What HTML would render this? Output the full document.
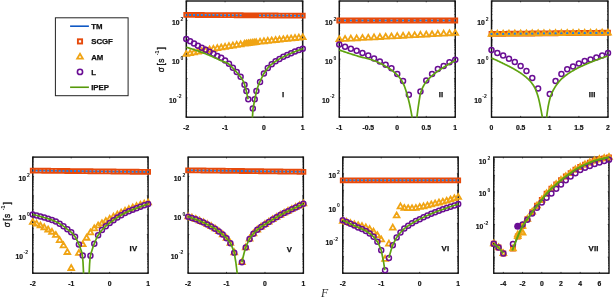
<!DOCTYPE html>
<html lang="en">
<head>
<meta charset="utf-8">
<title>Figure</title>
<style>
html,body{margin:0;padding:0;background:#fff;}
body{width:616px;height:297px;overflow:hidden;}
svg{display:block;filter:blur(0.4px);}
text{font-family:"Liberation Sans", sans-serif;fill:#111;}
.tk{font-size:6.8px;font-weight:700;stroke:#111;stroke-width:.2px;}
.sp{font-size:5px;font-weight:700;}
.pl{font-size:7.8px;font-weight:700;letter-spacing:.2px;stroke:#111;stroke-width:.25px;}
.lg{font-size:7.8px;font-weight:700;stroke:#111;stroke-width:.25px;}
.yl{font-size:8.3px;font-weight:400;fill:#111;stroke:#111;stroke-width:.35px;}
.ys{font-size:5.4px;font-weight:700;fill:#111;}
.xl{font-family:"Liberation Serif",serif;font-style:italic;font-size:11.8px;fill:#333;}
</style>
</head>
<body>
<svg width="616" height="297" viewBox="0 0 616 297">
<rect width="616" height="297" fill="#fff"/>
<defs>
<clipPath id="c0"><rect x="181.25" y="-4" width="126.5" height="121.6"/></clipPath>
<clipPath id="c1"><rect x="334.25" y="-4" width="126" height="121.6"/></clipPath>
<clipPath id="c2"><rect x="486.5" y="-4" width="126.5" height="121.6"/></clipPath>
<clipPath id="c3"><rect x="27.75" y="152.1" width="125.35" height="121.5"/></clipPath>
<clipPath id="c4"><rect x="183.1" y="152.1" width="125.3" height="121.5"/></clipPath>
<clipPath id="c5"><rect x="337.75" y="152.1" width="125.45" height="121.5"/></clipPath>
<clipPath id="c6"><rect x="488.75" y="152.1" width="125.25" height="121.5"/></clipPath>
</defs>
<path d="M186.25 117.2v-1.3M186.25 1v1.3M225.08 117.2v-1.3M225.08 1v1.3M263.92 117.2v-1.3M263.92 1v1.3M302.75 117.2v-1.3M302.75 1v1.3M186.25 1h1.3M302.75 1h-1.3M186.25 20.37h1.3M302.75 20.37h-1.3M186.25 39.73h1.3M302.75 39.73h-1.3M186.25 59.1h1.3M302.75 59.1h-1.3M186.25 78.47h1.3M302.75 78.47h-1.3M186.25 97.83h1.3M302.75 97.83h-1.3M186.25 117.2h1.3M302.75 117.2h-1.3M186.25 14.54h0.9M302.75 14.54h-0.9M186.25 11.13h0.9M302.75 11.13h-0.9M186.25 8.71h0.9M302.75 8.71h-0.9M186.25 6.83h0.9M302.75 6.83h-0.9M186.25 5.3h0.9M302.75 5.3h-0.9M186.25 4h0.9M302.75 4h-0.9M186.25 2.88h0.9M302.75 2.88h-0.9M186.25 1.89h0.9M302.75 1.89h-0.9M186.25 33.9h0.9M302.75 33.9h-0.9M186.25 30.49h0.9M302.75 30.49h-0.9M186.25 28.07h0.9M302.75 28.07h-0.9M186.25 26.2h0.9M302.75 26.2h-0.9M186.25 24.66h0.9M302.75 24.66h-0.9M186.25 23.37h0.9M302.75 23.37h-0.9M186.25 22.24h0.9M302.75 22.24h-0.9M186.25 21.25h0.9M302.75 21.25h-0.9M186.25 53.27h0.9M302.75 53.27h-0.9M186.25 49.86h0.9M302.75 49.86h-0.9M186.25 47.44h0.9M302.75 47.44h-0.9M186.25 45.56h0.9M302.75 45.56h-0.9M186.25 44.03h0.9M302.75 44.03h-0.9M186.25 42.73h0.9M302.75 42.73h-0.9M186.25 41.61h0.9M302.75 41.61h-0.9M186.25 40.62h0.9M302.75 40.62h-0.9M186.25 72.64h0.9M302.75 72.64h-0.9M186.25 69.23h0.9M302.75 69.23h-0.9M186.25 66.81h0.9M302.75 66.81h-0.9M186.25 64.93h0.9M302.75 64.93h-0.9M186.25 63.4h0.9M302.75 63.4h-0.9M186.25 62.1h0.9M302.75 62.1h-0.9M186.25 60.98h0.9M302.75 60.98h-0.9M186.25 59.99h0.9M302.75 59.99h-0.9M186.25 92h0.9M302.75 92h-0.9M186.25 88.59h0.9M302.75 88.59h-0.9M186.25 86.17h0.9M302.75 86.17h-0.9M186.25 84.3h0.9M302.75 84.3h-0.9M186.25 82.76h0.9M302.75 82.76h-0.9M186.25 81.47h0.9M302.75 81.47h-0.9M186.25 80.34h0.9M302.75 80.34h-0.9M186.25 79.35h0.9M302.75 79.35h-0.9M186.25 111.37h0.9M302.75 111.37h-0.9M186.25 107.96h0.9M302.75 107.96h-0.9M186.25 105.54h0.9M302.75 105.54h-0.9M186.25 103.66h0.9M302.75 103.66h-0.9M186.25 102.13h0.9M302.75 102.13h-0.9M186.25 100.83h0.9M302.75 100.83h-0.9M186.25 99.71h0.9M302.75 99.71h-0.9M186.25 98.72h0.9M302.75 98.72h-0.9" stroke="#111" stroke-width="0.7" fill="none"/><rect x="186.25" y="1" width="116.5" height="116.2" fill="none" stroke="#111" stroke-width="1.4"/>
<g clip-path="url(#c0)">
<path d="M186.25 14.9L302.75 15.7" fill="none" stroke="#1580EE" stroke-width="2.0" stroke-linejoin="round"/>
<path d="M184.3 12.95h3.9v3.9h-3.9zM188.18 12.98h3.9v3.9h-3.9zM192.07 13h3.9v3.9h-3.9zM195.95 13.03h3.9v3.9h-3.9zM199.83 13.06h3.9v3.9h-3.9zM203.72 13.08h3.9v3.9h-3.9zM207.6 13.11h3.9v3.9h-3.9zM211.48 13.14h3.9v3.9h-3.9zM215.37 13.16h3.9v3.9h-3.9zM219.25 13.19h3.9v3.9h-3.9zM223.13 13.22h3.9v3.9h-3.9zM227.02 13.24h3.9v3.9h-3.9zM230.9 13.27h3.9v3.9h-3.9zM234.78 13.3h3.9v3.9h-3.9zM238.67 13.32h3.9v3.9h-3.9zM242.55 13.35h3.9v3.9h-3.9zM244.49 13.36h3.9v3.9h-3.9zM246.43 13.38h3.9v3.9h-3.9zM248.37 13.39h3.9v3.9h-3.9zM250.32 13.4h3.9v3.9h-3.9zM252.26 13.42h3.9v3.9h-3.9zM254.2 13.43h3.9v3.9h-3.9zM258.08 13.46h3.9v3.9h-3.9zM261.97 13.48h3.9v3.9h-3.9zM265.85 13.51h3.9v3.9h-3.9zM269.73 13.54h3.9v3.9h-3.9zM273.62 13.56h3.9v3.9h-3.9zM277.5 13.59h3.9v3.9h-3.9zM281.38 13.62h3.9v3.9h-3.9zM285.27 13.64h3.9v3.9h-3.9zM289.15 13.67h3.9v3.9h-3.9zM293.03 13.7h3.9v3.9h-3.9zM296.92 13.72h3.9v3.9h-3.9zM300.8 13.75h3.9v3.9h-3.9z" fill="none" stroke="#E64A0C" stroke-width="1.9"/>
<path d="M186.25 50.97L189.1 55.92L183.4 55.92zM190.13 50.2L192.98 55.15L187.28 55.15zM194.02 49.44L196.87 54.39L191.17 54.39zM197.9 48.7L200.75 53.65L195.05 53.65zM201.78 47.97L204.63 52.92L198.93 52.92zM205.67 47.24L208.52 52.19L202.82 52.19zM209.55 46.54L212.4 51.49L206.7 51.49zM213.43 45.85L216.28 50.8L210.58 50.8zM217.32 45.16L220.17 50.11L214.47 50.11zM221.2 44.49L224.05 49.44L218.35 49.44zM225.08 43.83L227.93 48.78L222.23 48.78zM228.97 43.17L231.82 48.12L226.12 48.12zM232.85 42.54L235.7 47.49L230 47.49zM236.73 41.92L239.58 46.87L233.88 46.87zM240.62 41.32L243.47 46.27L237.77 46.27zM244.5 40.75L247.35 45.7L241.65 45.7zM246.44 40.48L249.29 45.43L243.59 45.43zM248.38 40.21L251.23 45.16L245.53 45.16zM250.32 39.95L253.17 44.9L247.47 44.9zM252.27 39.69L255.12 44.64L249.42 44.64zM254.21 39.44L257.06 44.39L251.36 44.39zM256.15 39.2L259 44.15L253.3 44.15zM260.03 38.73L262.88 43.68L257.18 43.68zM263.92 38.28L266.77 43.23L261.07 43.23zM267.8 37.86L270.65 42.81L264.95 42.81zM271.68 37.44L274.53 42.39L268.83 42.39zM275.57 37.03L278.42 41.98L272.72 41.98zM279.45 36.63L282.3 41.58L276.6 41.58zM283.33 36.22L286.18 41.17L280.48 41.17zM287.22 35.82L290.07 40.77L284.37 40.77zM291.1 35.43L293.95 40.38L288.25 40.38zM294.98 35.04L297.83 39.99L292.13 39.99zM298.87 34.65L301.72 39.6L296.02 39.6zM302.75 34.27L305.6 39.22L299.9 39.22z" fill="none" stroke="#F0A414" stroke-width="1.8" stroke-linejoin="miter"/>
<g fill="none" stroke="#6A0E94" stroke-width="1.5"><circle cx="186.25" cy="39" r="2.5"/><circle cx="190.13" cy="41.28" r="2.5"/><circle cx="194.02" cy="43.51" r="2.5"/><circle cx="197.9" cy="45.72" r="2.5"/><circle cx="201.78" cy="47.86" r="2.5"/><circle cx="205.67" cy="49.79" r="2.5"/><circle cx="209.55" cy="51.67" r="2.5"/><circle cx="213.43" cy="53.78" r="2.5"/><circle cx="217.32" cy="55.91" r="2.5"/><circle cx="221.2" cy="57.77" r="2.5"/><circle cx="225.08" cy="60.48" r="2.5"/><circle cx="228.97" cy="63.83" r="2.5"/><circle cx="232.85" cy="67.79" r="2.5"/><circle cx="236.73" cy="72.02" r="2.5"/><circle cx="240.62" cy="76.68" r="2.5"/><circle cx="244.5" cy="84.7" r="2.5"/><circle cx="246.4" cy="91.1" r="2.5"/><circle cx="248.3" cy="99.25" r="2.5"/><circle cx="252.8" cy="108.6" r="2.5"/><circle cx="254.7" cy="99.25" r="2.5"/><circle cx="256.4" cy="91.1" r="2.5"/><circle cx="260.03" cy="81.91" r="2.5"/><circle cx="263.92" cy="73.47" r="2.5"/><circle cx="267.8" cy="68.04" r="2.5"/><circle cx="271.68" cy="64.22" r="2.5"/><circle cx="275.57" cy="61.37" r="2.5"/><circle cx="279.45" cy="58.94" r="2.5"/><circle cx="283.33" cy="56.83" r="2.5"/><circle cx="287.22" cy="54.99" r="2.5"/><circle cx="291.1" cy="53.26" r="2.5"/><circle cx="294.98" cy="51.61" r="2.5"/><circle cx="298.87" cy="50.11" r="2.5"/><circle cx="302.75" cy="48.75" r="2.5"/></g>
<path d="M186.25 47.25L187.74 47.68L189.23 48.13L190.72 48.59L192.21 49.06L193.71 49.54L195.2 50.04L196.69 50.54L198.18 51.06L199.67 51.58L201.16 52.12L202.65 52.67L204.14 53.24L205.63 53.82L207.12 54.42L208.62 55.03L210.11 55.64L211.6 56.29L213.09 56.96L214.58 57.65L216.07 58.35L217.56 59.05L219.05 59.74L220.54 60.41L222.03 61.06L223.53 61.64L225.02 62.15L226.51 62.72L228 63.5L229.49 64.65L230.98 66.08L232.47 67.65L233.96 69.22L235.45 70.83L236.94 72.53L238.44 74.32L239.93 76.11L241.42 78.06L242.91 80.65L244.4 84L246.3 91L248.1 99.25" fill="none" stroke="#5FA310" stroke-width="1.7" stroke-linejoin="round"/>
<path d="M252.4 118L253 108.6L254.8 99.25L256.5 91L258.75 84.25L260.5 80.5L263.5 74.2L264.5 72.51L266.09 70.17L267.69 68.17L269.28 66.43L270.88 64.91L272.47 63.59L274.06 62.4L275.66 61.31L277.25 60.28L278.84 59.3L280.44 58.38L282.03 57.51L283.62 56.68L285.22 55.91L286.81 55.17L288.41 54.46L290 53.75L291.59 53.05L293.19 52.36L294.78 51.69L296.38 51.05L297.97 50.44L299.56 49.85L301.16 49.29L302.75 48.75" fill="none" stroke="#5FA310" stroke-width="1.7" stroke-linejoin="round"/>
</g>
<text x="186.25" y="130" text-anchor="middle" class="tk">-2</text><text x="225.08" y="130" text-anchor="middle" class="tk">-1</text><text x="263.92" y="130" text-anchor="middle" class="tk">0</text><text x="302.75" y="130" text-anchor="middle" class="tk">1</text><text x="179.5" y="25.07" text-anchor="end" class="tk">10</text><text x="180.6" y="20.87" text-anchor="start" class="sp">2</text><text x="179.5" y="63.8" text-anchor="end" class="tk">10</text><text x="180.6" y="59.6" text-anchor="start" class="sp">0</text><text x="176.55" y="102.53" text-anchor="end" class="tk">10</text><text x="177.05" y="98.33" text-anchor="start" class="sp">-2</text><text x="283.1" y="96.9" text-anchor="middle" class="pl">I</text>
<path d="M339.25 117.2v-1.3M339.25 1v1.3M368.25 117.2v-1.3M368.25 1v1.3M397.25 117.2v-1.3M397.25 1v1.3M426.25 117.2v-1.3M426.25 1v1.3M455.25 117.2v-1.3M455.25 1v1.3M339.25 1h1.3M455.25 1h-1.3M339.25 20.37h1.3M455.25 20.37h-1.3M339.25 39.73h1.3M455.25 39.73h-1.3M339.25 59.1h1.3M455.25 59.1h-1.3M339.25 78.47h1.3M455.25 78.47h-1.3M339.25 97.83h1.3M455.25 97.83h-1.3M339.25 117.2h1.3M455.25 117.2h-1.3M339.25 14.54h0.9M455.25 14.54h-0.9M339.25 11.13h0.9M455.25 11.13h-0.9M339.25 8.71h0.9M455.25 8.71h-0.9M339.25 6.83h0.9M455.25 6.83h-0.9M339.25 5.3h0.9M455.25 5.3h-0.9M339.25 4h0.9M455.25 4h-0.9M339.25 2.88h0.9M455.25 2.88h-0.9M339.25 1.89h0.9M455.25 1.89h-0.9M339.25 33.9h0.9M455.25 33.9h-0.9M339.25 30.49h0.9M455.25 30.49h-0.9M339.25 28.07h0.9M455.25 28.07h-0.9M339.25 26.2h0.9M455.25 26.2h-0.9M339.25 24.66h0.9M455.25 24.66h-0.9M339.25 23.37h0.9M455.25 23.37h-0.9M339.25 22.24h0.9M455.25 22.24h-0.9M339.25 21.25h0.9M455.25 21.25h-0.9M339.25 53.27h0.9M455.25 53.27h-0.9M339.25 49.86h0.9M455.25 49.86h-0.9M339.25 47.44h0.9M455.25 47.44h-0.9M339.25 45.56h0.9M455.25 45.56h-0.9M339.25 44.03h0.9M455.25 44.03h-0.9M339.25 42.73h0.9M455.25 42.73h-0.9M339.25 41.61h0.9M455.25 41.61h-0.9M339.25 40.62h0.9M455.25 40.62h-0.9M339.25 72.64h0.9M455.25 72.64h-0.9M339.25 69.23h0.9M455.25 69.23h-0.9M339.25 66.81h0.9M455.25 66.81h-0.9M339.25 64.93h0.9M455.25 64.93h-0.9M339.25 63.4h0.9M455.25 63.4h-0.9M339.25 62.1h0.9M455.25 62.1h-0.9M339.25 60.98h0.9M455.25 60.98h-0.9M339.25 59.99h0.9M455.25 59.99h-0.9M339.25 92h0.9M455.25 92h-0.9M339.25 88.59h0.9M455.25 88.59h-0.9M339.25 86.17h0.9M455.25 86.17h-0.9M339.25 84.3h0.9M455.25 84.3h-0.9M339.25 82.76h0.9M455.25 82.76h-0.9M339.25 81.47h0.9M455.25 81.47h-0.9M339.25 80.34h0.9M455.25 80.34h-0.9M339.25 79.35h0.9M455.25 79.35h-0.9M339.25 111.37h0.9M455.25 111.37h-0.9M339.25 107.96h0.9M455.25 107.96h-0.9M339.25 105.54h0.9M455.25 105.54h-0.9M339.25 103.66h0.9M455.25 103.66h-0.9M339.25 102.13h0.9M455.25 102.13h-0.9M339.25 100.83h0.9M455.25 100.83h-0.9M339.25 99.71h0.9M455.25 99.71h-0.9M339.25 98.72h0.9M455.25 98.72h-0.9" stroke="#111" stroke-width="0.7" fill="none"/><rect x="339.25" y="1" width="116" height="116.2" fill="none" stroke="#111" stroke-width="1.4"/>
<g clip-path="url(#c1)">
<path d="M339.25 20.5L455.25 20.5" fill="none" stroke="#1580EE" stroke-width="2.0" stroke-linejoin="round"/>
<path d="M337.3 18.55h3.9v3.9h-3.9zM343.1 18.55h3.9v3.9h-3.9zM348.9 18.55h3.9v3.9h-3.9zM354.7 18.55h3.9v3.9h-3.9zM360.5 18.55h3.9v3.9h-3.9zM366.3 18.55h3.9v3.9h-3.9zM372.1 18.55h3.9v3.9h-3.9zM377.9 18.55h3.9v3.9h-3.9zM383.7 18.55h3.9v3.9h-3.9zM389.5 18.55h3.9v3.9h-3.9zM395.3 18.55h3.9v3.9h-3.9zM401.1 18.55h3.9v3.9h-3.9zM406.9 18.55h3.9v3.9h-3.9zM412.7 18.55h3.9v3.9h-3.9zM418.5 18.55h3.9v3.9h-3.9zM424.3 18.55h3.9v3.9h-3.9zM430.1 18.55h3.9v3.9h-3.9zM435.9 18.55h3.9v3.9h-3.9zM441.7 18.55h3.9v3.9h-3.9zM447.5 18.55h3.9v3.9h-3.9zM453.3 18.55h3.9v3.9h-3.9z" fill="none" stroke="#E64A0C" stroke-width="1.9"/>
<path d="M339.25 36.27L342.1 41.22L336.4 41.22zM345.05 35.96L347.9 40.91L342.2 40.91zM350.85 35.64L353.7 40.59L348 40.59zM356.65 35.33L359.5 40.27L353.8 40.27zM362.45 35.01L365.3 39.96L359.6 39.96zM368.25 34.7L371.1 39.64L365.4 39.64zM374.05 34.38L376.9 39.33L371.2 39.33zM379.85 34.07L382.7 39.02L377 39.02zM385.65 33.75L388.5 38.7L382.8 38.7zM391.45 33.44L394.3 38.38L388.6 38.38zM397.25 33.12L400.1 38.07L394.4 38.07zM403.05 32.81L405.9 37.76L400.2 37.76zM408.85 32.49L411.7 37.44L406 37.44zM414.65 32.18L417.5 37.12L411.8 37.12zM420.45 31.86L423.3 36.81L417.6 36.81zM426.25 31.55L429.1 36.5L423.4 36.5zM432.05 31.23L434.9 36.18L429.2 36.18zM437.85 30.92L440.7 35.87L435 35.87zM443.65 30.6L446.5 35.55L440.8 35.55zM449.45 30.29L452.3 35.23L446.6 35.23zM455.25 29.97L458.1 34.92L452.4 34.92z" fill="none" stroke="#F0A414" stroke-width="1.8" stroke-linejoin="miter"/>
<g fill="none" stroke="#6A0E94" stroke-width="1.5"><circle cx="339.25" cy="44.5" r="2.5"/><circle cx="345.05" cy="46.75" r="2.5"/><circle cx="350.85" cy="48.75" r="2.5"/><circle cx="356.65" cy="50.75" r="2.5"/><circle cx="362.45" cy="53" r="2.5"/><circle cx="368.25" cy="55.5" r="2.5"/><circle cx="374.05" cy="58.4" r="2.5"/><circle cx="379.85" cy="61.4" r="2.5"/><circle cx="385.65" cy="64.8" r="2.5"/><circle cx="391.45" cy="68.3" r="2.5"/><circle cx="397.25" cy="74" r="2.5"/><circle cx="403.05" cy="81" r="2.5"/><circle cx="408.85" cy="94.75" r="2.5"/><circle cx="420.45" cy="91.5" r="2.5"/><circle cx="426.25" cy="80.5" r="2.5"/><circle cx="432.05" cy="74" r="2.5"/><circle cx="437.85" cy="69" r="2.5"/><circle cx="443.65" cy="66" r="2.5"/><circle cx="449.45" cy="62.25" r="2.5"/><circle cx="455.25" cy="59.75" r="2.5"/></g>
<path d="M339.25 50L340.17 50.33L341.1 50.65L342.02 50.97L342.94 51.29L343.87 51.61L344.79 51.92L345.71 52.23L346.64 52.54L347.56 52.85L348.48 53.15L349.41 53.46L350.33 53.76L351.25 54.05L352.18 54.35L353.1 54.64L354.02 54.93L354.95 55.22L355.87 55.5L356.79 55.79L357.72 56.07L358.64 56.34L359.57 56.6L360.49 56.85L361.41 57.09L362.34 57.33L363.26 57.56L364.18 57.79L365.11 58.03L366.03 58.26L366.95 58.5L367.88 58.74L368.8 58.99L369.72 59.25L370.65 59.52L371.57 59.8L372.49 60.09L373.42 60.4L374.34 60.73L375.26 61.08L376.19 61.45L377.11 61.84L378.03 62.26L378.96 62.69L379.88 63.14L380.8 63.6L381.73 64.08L382.65 64.58L383.57 65.09L384.5 65.62L385.42 66.16L386.34 66.71L387.27 67.27L388.19 67.84L389.11 68.43L390.04 69.04L390.96 69.68L391.88 70.35L392.81 71.05L393.73 71.78L394.66 72.56L395.58 73.38L396.5 74.26L397.43 75.18L398.35 76.19L399.27 77.28L400.2 78.49L401.12 79.83L402.04 81.31L402.97 82.96L403.89 84.87L404.81 87.27L405.74 90.06L406.66 93.1L407.58 96.29L408.51 99.74L409.43 103.57L410.35 107.79L411.28 112.57L412.2 118" fill="none" stroke="#5FA310" stroke-width="1.7" stroke-linejoin="round"/>
<path d="M416.8 118L417.29 114.04L417.77 110.3L418.26 106.79L418.75 103.52L419.23 100.33L419.72 97.26L420.21 94.68L420.69 92.85L421.18 91.34L421.67 89.98L422.15 88.76L422.64 87.66L423.13 86.66L423.61 85.76L424.1 84.92L424.59 84.13L425.07 83.39L425.56 82.68L426.05 82L426.53 81.36L427.02 80.75L427.51 80.17L427.99 79.61L428.48 79.08L428.97 78.57L429.45 78.08L429.94 77.61L430.43 77.15L430.91 76.7L431.4 76.26L431.89 75.82L432.37 75.39L432.86 74.97L433.35 74.56L433.83 74.15L434.32 73.76L434.81 73.38L435.29 73L435.78 72.63L436.27 72.27L436.76 71.91L437.24 71.57L437.73 71.22L438.22 70.88L438.7 70.55L439.19 70.22L439.68 69.9L440.16 69.57L440.65 69.25L441.14 68.94L441.62 68.62L442.11 68.31L442.6 67.99L443.08 67.68L443.57 67.37L444.06 67.05L444.54 66.74L445.03 66.43L445.52 66.12L446 65.82L446.49 65.52L446.98 65.22L447.46 64.92L447.95 64.62L448.44 64.33L448.92 64.04L449.41 63.75L449.9 63.46L450.38 63.18L450.87 62.9L451.36 62.62L451.84 62.35L452.33 62.08L452.82 61.81L453.3 61.54L453.79 61.27L454.28 61.01L454.76 60.76L455.25 60.5" fill="none" stroke="#5FA310" stroke-width="1.7" stroke-linejoin="round"/>
</g>
<text x="339.25" y="130" text-anchor="middle" class="tk">-1</text><text x="368.25" y="130" text-anchor="middle" class="tk">-0.5</text><text x="397.25" y="130" text-anchor="middle" class="tk">0</text><text x="426.25" y="130" text-anchor="middle" class="tk">0.5</text><text x="455.25" y="130" text-anchor="middle" class="tk">1</text><text x="332.5" y="25.07" text-anchor="end" class="tk">10</text><text x="333.6" y="20.87" text-anchor="start" class="sp">2</text><text x="332.5" y="63.8" text-anchor="end" class="tk">10</text><text x="333.6" y="59.6" text-anchor="start" class="sp">0</text><text x="329.55" y="102.53" text-anchor="end" class="tk">10</text><text x="330.05" y="98.33" text-anchor="start" class="sp">-2</text><text x="441.1" y="96.9" text-anchor="middle" class="pl">II</text>
<path d="M491.5 117.2v-1.3M491.5 1v1.3M520.62 117.2v-1.3M520.62 1v1.3M549.75 117.2v-1.3M549.75 1v1.3M578.88 117.2v-1.3M578.88 1v1.3M608 117.2v-1.3M608 1v1.3M491.5 1h1.3M608 1h-1.3M491.5 20.37h1.3M608 20.37h-1.3M491.5 39.73h1.3M608 39.73h-1.3M491.5 59.1h1.3M608 59.1h-1.3M491.5 78.47h1.3M608 78.47h-1.3M491.5 97.83h1.3M608 97.83h-1.3M491.5 117.2h1.3M608 117.2h-1.3M491.5 14.54h0.9M608 14.54h-0.9M491.5 11.13h0.9M608 11.13h-0.9M491.5 8.71h0.9M608 8.71h-0.9M491.5 6.83h0.9M608 6.83h-0.9M491.5 5.3h0.9M608 5.3h-0.9M491.5 4h0.9M608 4h-0.9M491.5 2.88h0.9M608 2.88h-0.9M491.5 1.89h0.9M608 1.89h-0.9M491.5 33.9h0.9M608 33.9h-0.9M491.5 30.49h0.9M608 30.49h-0.9M491.5 28.07h0.9M608 28.07h-0.9M491.5 26.2h0.9M608 26.2h-0.9M491.5 24.66h0.9M608 24.66h-0.9M491.5 23.37h0.9M608 23.37h-0.9M491.5 22.24h0.9M608 22.24h-0.9M491.5 21.25h0.9M608 21.25h-0.9M491.5 53.27h0.9M608 53.27h-0.9M491.5 49.86h0.9M608 49.86h-0.9M491.5 47.44h0.9M608 47.44h-0.9M491.5 45.56h0.9M608 45.56h-0.9M491.5 44.03h0.9M608 44.03h-0.9M491.5 42.73h0.9M608 42.73h-0.9M491.5 41.61h0.9M608 41.61h-0.9M491.5 40.62h0.9M608 40.62h-0.9M491.5 72.64h0.9M608 72.64h-0.9M491.5 69.23h0.9M608 69.23h-0.9M491.5 66.81h0.9M608 66.81h-0.9M491.5 64.93h0.9M608 64.93h-0.9M491.5 63.4h0.9M608 63.4h-0.9M491.5 62.1h0.9M608 62.1h-0.9M491.5 60.98h0.9M608 60.98h-0.9M491.5 59.99h0.9M608 59.99h-0.9M491.5 92h0.9M608 92h-0.9M491.5 88.59h0.9M608 88.59h-0.9M491.5 86.17h0.9M608 86.17h-0.9M491.5 84.3h0.9M608 84.3h-0.9M491.5 82.76h0.9M608 82.76h-0.9M491.5 81.47h0.9M608 81.47h-0.9M491.5 80.34h0.9M608 80.34h-0.9M491.5 79.35h0.9M608 79.35h-0.9M491.5 111.37h0.9M608 111.37h-0.9M491.5 107.96h0.9M608 107.96h-0.9M491.5 105.54h0.9M608 105.54h-0.9M491.5 103.66h0.9M608 103.66h-0.9M491.5 102.13h0.9M608 102.13h-0.9M491.5 100.83h0.9M608 100.83h-0.9M491.5 99.71h0.9M608 99.71h-0.9M491.5 98.72h0.9M608 98.72h-0.9" stroke="#111" stroke-width="0.7" fill="none"/><rect x="491.5" y="1" width="116.5" height="116.2" fill="none" stroke="#111" stroke-width="1.4"/>
<g clip-path="url(#c2)">
<path d="M491.5 33.9L608 32.7" fill="none" stroke="#1580EE" stroke-width="2.0" stroke-linejoin="round"/>
<path d="M489.55 31.95h3.9v3.9h-3.9zM495.38 31.89h3.9v3.9h-3.9zM501.2 31.83h3.9v3.9h-3.9zM507.03 31.77h3.9v3.9h-3.9zM512.85 31.71h3.9v3.9h-3.9zM518.67 31.65h3.9v3.9h-3.9zM524.5 31.59h3.9v3.9h-3.9zM530.32 31.53h3.9v3.9h-3.9zM536.15 31.47h3.9v3.9h-3.9zM541.97 31.41h3.9v3.9h-3.9zM547.8 31.35h3.9v3.9h-3.9zM553.62 31.29h3.9v3.9h-3.9zM559.45 31.23h3.9v3.9h-3.9zM565.27 31.17h3.9v3.9h-3.9zM571.1 31.11h3.9v3.9h-3.9zM576.92 31.05h3.9v3.9h-3.9zM582.75 30.99h3.9v3.9h-3.9zM588.57 30.93h3.9v3.9h-3.9zM594.4 30.87h3.9v3.9h-3.9zM600.22 30.81h3.9v3.9h-3.9zM606.05 30.75h3.9v3.9h-3.9z" fill="none" stroke="#E64A0C" stroke-width="1.9"/>
<path d="M491.5 30.8L494.35 35.75L488.65 35.75zM497.32 30.74L500.18 35.69L494.47 35.69zM503.15 30.68L506 35.63L500.3 35.63zM508.98 30.62L511.83 35.57L506.12 35.57zM514.8 30.56L517.65 35.51L511.95 35.51zM520.62 30.5L523.48 35.45L517.77 35.45zM526.45 30.44L529.3 35.39L523.6 35.39zM532.27 30.38L535.12 35.33L529.42 35.33zM538.1 30.32L540.95 35.27L535.25 35.27zM543.92 30.26L546.77 35.21L541.07 35.21zM549.75 30.2L552.6 35.15L546.9 35.15zM555.58 30.14L558.43 35.09L552.73 35.09zM561.4 30.08L564.25 35.03L558.55 35.03zM567.23 30.02L570.08 34.97L564.38 34.97zM573.05 29.96L575.9 34.91L570.2 34.91zM578.88 29.9L581.73 34.85L576.02 34.85zM584.7 29.84L587.55 34.79L581.85 34.79zM590.52 29.78L593.38 34.73L587.67 34.73zM596.35 29.72L599.2 34.67L593.5 34.67zM602.17 29.66L605.02 34.61L599.32 34.61zM608 29.6L610.85 34.55L605.15 34.55z" fill="none" stroke="#F0A414" stroke-width="1.8" stroke-linejoin="miter"/>
<path d="M490.55 33.1h1.9v1.7h-1.9zM496.38 33.04h1.9v1.7h-1.9zM502.2 32.98h1.9v1.7h-1.9zM508.03 32.92h1.9v1.7h-1.9zM513.85 32.86h1.9v1.7h-1.9zM519.67 32.8h1.9v1.7h-1.9zM525.5 32.74h1.9v1.7h-1.9zM531.32 32.68h1.9v1.7h-1.9zM537.15 32.62h1.9v1.7h-1.9zM542.97 32.56h1.9v1.7h-1.9zM548.8 32.5h1.9v1.7h-1.9zM554.62 32.44h1.9v1.7h-1.9zM560.45 32.38h1.9v1.7h-1.9zM566.27 32.32h1.9v1.7h-1.9zM572.1 32.26h1.9v1.7h-1.9zM577.92 32.2h1.9v1.7h-1.9zM583.75 32.14h1.9v1.7h-1.9zM589.57 32.08h1.9v1.7h-1.9zM595.4 32.02h1.9v1.7h-1.9zM601.22 31.96h1.9v1.7h-1.9zM607.05 31.9h1.9v1.7h-1.9z" fill="#1580EE"/>
<g fill="none" stroke="#6A0E94" stroke-width="1.5"><circle cx="491.5" cy="50" r="2.5"/><circle cx="497.32" cy="53" r="2.5"/><circle cx="503.15" cy="55.5" r="2.5"/><circle cx="508.98" cy="58.75" r="2.5"/><circle cx="514.8" cy="62" r="2.5"/><circle cx="520.62" cy="66" r="2.5"/><circle cx="526.45" cy="71" r="2.5"/><circle cx="532.27" cy="78" r="2.5"/><circle cx="538.1" cy="88.5" r="2.5"/><circle cx="549.75" cy="94" r="2.5"/><circle cx="555.58" cy="81" r="2.5"/><circle cx="561.4" cy="74" r="2.5"/><circle cx="567.23" cy="69.25" r="2.5"/><circle cx="573.05" cy="66.5" r="2.5"/><circle cx="578.88" cy="63.5" r="2.5"/><circle cx="584.7" cy="61" r="2.5"/><circle cx="590.52" cy="59.5" r="2.5"/><circle cx="596.35" cy="57.5" r="2.5"/><circle cx="602.17" cy="55.5" r="2.5"/><circle cx="608" cy="53" r="2.5"/></g>
<path d="M491.5 58L492.15 58.29L492.79 58.57L493.44 58.86L494.08 59.16L494.73 59.45L495.37 59.75L496.02 60.04L496.66 60.34L497.31 60.64L497.96 60.95L498.6 61.25L499.25 61.56L499.89 61.87L500.54 62.18L501.18 62.49L501.83 62.8L502.47 63.12L503.12 63.44L503.77 63.75L504.41 64.07L505.06 64.39L505.7 64.7L506.35 65.02L506.99 65.34L507.64 65.66L508.28 65.98L508.93 66.3L509.58 66.63L510.22 66.97L510.87 67.3L511.51 67.64L512.16 67.99L512.8 68.34L513.45 68.7L514.09 69.07L514.74 69.45L515.39 69.83L516.03 70.22L516.68 70.61L517.32 71L517.97 71.39L518.61 71.79L519.26 72.19L519.91 72.61L520.55 73.03L521.2 73.46L521.84 73.9L522.49 74.36L523.13 74.83L523.78 75.31L524.42 75.81L525.07 76.33L525.72 76.87L526.36 77.43L527.01 78.01L527.65 78.6L528.3 79.22L528.94 79.86L529.59 80.53L530.23 81.24L530.88 81.99L531.53 82.78L532.17 83.64L532.82 84.55L533.46 85.53L534.11 86.57L534.75 87.71L535.4 89.05L536.04 90.61L536.69 92.35L537.34 94.27L537.98 96.34L538.63 98.63L539.27 101.35L539.92 104.39L540.56 107.57L541.21 110.84L541.85 114.32L542.5 118" fill="none" stroke="#5FA310" stroke-width="1.7" stroke-linejoin="round"/>
<path d="M546.5 118L547.28 112.05L548.06 107.04L548.84 103.14L549.61 99.81L550.39 97.06L551.17 94.87L551.95 92.96L552.73 91.26L553.51 89.73L554.28 88.35L555.06 87.07L555.84 85.86L556.62 84.72L557.4 83.64L558.18 82.63L558.96 81.68L559.73 80.8L560.51 79.97L561.29 79.2L562.07 78.48L562.85 77.78L563.63 77.12L564.41 76.48L565.18 75.86L565.96 75.27L566.74 74.7L567.52 74.14L568.3 73.61L569.08 73.09L569.85 72.58L570.63 72.09L571.41 71.61L572.19 71.13L572.97 70.67L573.75 70.21L574.53 69.76L575.3 69.33L576.08 68.91L576.86 68.5L577.64 68.1L578.42 67.71L579.2 67.33L579.97 66.95L580.75 66.58L581.53 66.22L582.31 65.86L583.09 65.5L583.87 65.15L584.65 64.8L585.42 64.45L586.2 64.1L586.98 63.76L587.76 63.43L588.54 63.1L589.32 62.77L590.09 62.45L590.87 62.13L591.65 61.81L592.43 61.5L593.21 61.2L593.99 60.89L594.77 60.59L595.54 60.3L596.32 60L597.1 59.71L597.88 59.43L598.66 59.14L599.44 58.86L600.22 58.58L600.99 58.31L601.77 58.04L602.55 57.77L603.33 57.51L604.11 57.25L604.89 56.99L605.66 56.74L606.44 56.49L607.22 56.24L608 56" fill="none" stroke="#5FA310" stroke-width="1.7" stroke-linejoin="round"/>
</g>
<text x="491.5" y="130" text-anchor="middle" class="tk">0</text><text x="520.62" y="130" text-anchor="middle" class="tk">0.5</text><text x="549.75" y="130" text-anchor="middle" class="tk">1</text><text x="578.88" y="130" text-anchor="middle" class="tk">1.5</text><text x="608" y="130" text-anchor="middle" class="tk">2</text><text x="484.75" y="25.07" text-anchor="end" class="tk">10</text><text x="485.85" y="20.87" text-anchor="start" class="sp">2</text><text x="484.75" y="63.8" text-anchor="end" class="tk">10</text><text x="485.85" y="59.6" text-anchor="start" class="sp">0</text><text x="481.8" y="102.53" text-anchor="end" class="tk">10</text><text x="482.3" y="98.33" text-anchor="start" class="sp">-2</text><text x="592.2" y="96.9" text-anchor="middle" class="pl">III</text>
<path d="M32.75 273.2v-1.3M32.75 157.1v1.3M71.2 273.2v-1.3M71.2 157.1v1.3M109.65 273.2v-1.3M109.65 157.1v1.3M148.1 273.2v-1.3M148.1 157.1v1.3M32.75 157.1h1.3M148.1 157.1h-1.3M32.75 176.45h1.3M148.1 176.45h-1.3M32.75 195.8h1.3M148.1 195.8h-1.3M32.75 215.15h1.3M148.1 215.15h-1.3M32.75 234.5h1.3M148.1 234.5h-1.3M32.75 253.85h1.3M148.1 253.85h-1.3M32.75 273.2h1.3M148.1 273.2h-1.3M32.75 170.63h0.9M148.1 170.63h-0.9M32.75 167.22h0.9M148.1 167.22h-0.9M32.75 164.8h0.9M148.1 164.8h-0.9M32.75 162.92h0.9M148.1 162.92h-0.9M32.75 161.39h0.9M148.1 161.39h-0.9M32.75 160.1h0.9M148.1 160.1h-0.9M32.75 158.98h0.9M148.1 158.98h-0.9M32.75 157.99h0.9M148.1 157.99h-0.9M32.75 189.98h0.9M148.1 189.98h-0.9M32.75 186.57h0.9M148.1 186.57h-0.9M32.75 184.15h0.9M148.1 184.15h-0.9M32.75 182.27h0.9M148.1 182.27h-0.9M32.75 180.74h0.9M148.1 180.74h-0.9M32.75 179.45h0.9M148.1 179.45h-0.9M32.75 178.33h0.9M148.1 178.33h-0.9M32.75 177.34h0.9M148.1 177.34h-0.9M32.75 209.33h0.9M148.1 209.33h-0.9M32.75 205.92h0.9M148.1 205.92h-0.9M32.75 203.5h0.9M148.1 203.5h-0.9M32.75 201.62h0.9M148.1 201.62h-0.9M32.75 200.09h0.9M148.1 200.09h-0.9M32.75 198.8h0.9M148.1 198.8h-0.9M32.75 197.68h0.9M148.1 197.68h-0.9M32.75 196.69h0.9M148.1 196.69h-0.9M32.75 228.68h0.9M148.1 228.68h-0.9M32.75 225.27h0.9M148.1 225.27h-0.9M32.75 222.85h0.9M148.1 222.85h-0.9M32.75 220.97h0.9M148.1 220.97h-0.9M32.75 219.44h0.9M148.1 219.44h-0.9M32.75 218.15h0.9M148.1 218.15h-0.9M32.75 217.03h0.9M148.1 217.03h-0.9M32.75 216.04h0.9M148.1 216.04h-0.9M32.75 248.03h0.9M148.1 248.03h-0.9M32.75 244.62h0.9M148.1 244.62h-0.9M32.75 242.2h0.9M148.1 242.2h-0.9M32.75 240.32h0.9M148.1 240.32h-0.9M32.75 238.79h0.9M148.1 238.79h-0.9M32.75 237.5h0.9M148.1 237.5h-0.9M32.75 236.38h0.9M148.1 236.38h-0.9M32.75 235.39h0.9M148.1 235.39h-0.9M32.75 267.38h0.9M148.1 267.38h-0.9M32.75 263.97h0.9M148.1 263.97h-0.9M32.75 261.55h0.9M148.1 261.55h-0.9M32.75 259.67h0.9M148.1 259.67h-0.9M32.75 258.14h0.9M148.1 258.14h-0.9M32.75 256.85h0.9M148.1 256.85h-0.9M32.75 255.73h0.9M148.1 255.73h-0.9M32.75 254.74h0.9M148.1 254.74h-0.9" stroke="#111" stroke-width="0.7" fill="none"/><rect x="32.75" y="157.1" width="115.35" height="116.1" fill="none" stroke="#111" stroke-width="1.4"/>
<g clip-path="url(#c3)">
<path d="M32.75 170.6L148.1 171.9" fill="none" stroke="#1580EE" stroke-width="2.0" stroke-linejoin="round"/>
<path d="M30.8 168.65h3.9v3.9h-3.9zM34.64 168.69h3.9v3.9h-3.9zM38.49 168.74h3.9v3.9h-3.9zM42.33 168.78h3.9v3.9h-3.9zM46.18 168.82h3.9v3.9h-3.9zM50.02 168.87h3.9v3.9h-3.9zM53.87 168.91h3.9v3.9h-3.9zM57.71 168.95h3.9v3.9h-3.9zM61.56 169h3.9v3.9h-3.9zM65.4 169.04h3.9v3.9h-3.9zM69.25 169.08h3.9v3.9h-3.9zM73.09 169.13h3.9v3.9h-3.9zM76.94 169.17h3.9v3.9h-3.9zM80.78 169.21h3.9v3.9h-3.9zM84.63 169.26h3.9v3.9h-3.9zM88.47 169.3h3.9v3.9h-3.9zM92.32 169.34h3.9v3.9h-3.9zM96.16 169.39h3.9v3.9h-3.9zM100.01 169.43h3.9v3.9h-3.9zM103.85 169.47h3.9v3.9h-3.9zM107.7 169.52h3.9v3.9h-3.9zM111.54 169.56h3.9v3.9h-3.9zM115.39 169.6h3.9v3.9h-3.9zM119.23 169.65h3.9v3.9h-3.9zM123.08 169.69h3.9v3.9h-3.9zM126.92 169.73h3.9v3.9h-3.9zM130.77 169.78h3.9v3.9h-3.9zM134.62 169.82h3.9v3.9h-3.9zM138.46 169.86h3.9v3.9h-3.9zM142.31 169.91h3.9v3.9h-3.9zM146.15 169.95h3.9v3.9h-3.9z" fill="none" stroke="#E64A0C" stroke-width="1.9"/>
<path d="M32.75 218.97L35.6 223.92L29.9 223.92zM36.59 220.67L39.45 225.62L33.74 225.62zM40.44 222.49L43.29 227.44L37.59 227.44zM44.28 224.41L47.13 229.36L41.43 229.36zM48.13 226.55L50.98 231.5L45.28 231.5zM51.97 228.92L54.82 233.87L49.12 233.87zM55.82 231.99L58.67 236.94L52.97 236.94zM59.66 237.16L62.52 242.11L56.81 242.11zM63.51 242.39L66.36 247.34L60.66 247.34zM67.35 249.06L70.2 254.01L64.5 254.01zM71.2 265.07L74.05 270.02L68.35 270.02zM78.89 250L81.74 254.95L76.04 254.95zM82.73 241.2L85.58 246.15L79.89 246.15zM86.58 234.8L89.43 239.75L83.73 239.75zM90.42 229.44L93.27 234.39L87.58 234.39zM94.27 225.39L97.12 230.34L91.42 230.34zM98.11 222.52L100.96 227.47L95.27 227.47zM101.96 220.21L104.81 225.16L99.11 225.16zM105.8 218L108.65 222.95L102.95 222.95zM109.65 215.78L112.5 220.73L106.8 220.73zM113.49 213.62L116.34 218.57L110.64 218.57zM117.34 211.54L120.19 216.49L114.49 216.49zM121.18 209.58L124.03 214.53L118.33 214.53zM125.03 207.76L127.88 212.71L122.18 212.71zM128.88 206.09L131.72 211.04L126.03 211.04zM132.72 204.55L135.57 209.5L129.87 209.5zM136.56 203.12L139.41 208.07L133.72 208.07zM140.41 201.81L143.26 206.76L137.56 206.76zM144.25 200.58L147.1 205.53L141.41 205.53zM148.1 199.47L150.95 204.42L145.25 204.42z" fill="none" stroke="#F0A414" stroke-width="1.8" stroke-linejoin="miter"/>
<g fill="none" stroke="#6A0E94" stroke-width="1.5"><circle cx="32.75" cy="214.5" r="2.5"/><circle cx="36.59" cy="215.43" r="2.5"/><circle cx="40.44" cy="216.47" r="2.5"/><circle cx="44.28" cy="217.59" r="2.5"/><circle cx="48.13" cy="218.75" r="2.5"/><circle cx="51.97" cy="220.05" r="2.5"/><circle cx="55.82" cy="221.62" r="2.5"/><circle cx="59.66" cy="223.72" r="2.5"/><circle cx="63.51" cy="226.26" r="2.5"/><circle cx="67.35" cy="229.29" r="2.5"/><circle cx="71.2" cy="232.3" r="2.5"/><circle cx="75.04" cy="236.72" r="2.5"/><circle cx="78.89" cy="244.38" r="2.5"/><circle cx="82.73" cy="255.45" r="2.5"/><circle cx="90.42" cy="255.71" r="2.5"/><circle cx="94.27" cy="243.68" r="2.5"/><circle cx="98.11" cy="235.27" r="2.5"/><circle cx="101.96" cy="230.05" r="2.5"/><circle cx="105.8" cy="226.25" r="2.5"/><circle cx="109.65" cy="223.08" r="2.5"/><circle cx="113.49" cy="220.25" r="2.5"/><circle cx="117.34" cy="217.61" r="2.5"/><circle cx="121.18" cy="215.13" r="2.5"/><circle cx="125.03" cy="212.98" r="2.5"/><circle cx="128.88" cy="211.21" r="2.5"/><circle cx="132.72" cy="209.65" r="2.5"/><circle cx="136.56" cy="208.17" r="2.5"/><circle cx="140.41" cy="206.71" r="2.5"/><circle cx="144.25" cy="205.32" r="2.5"/><circle cx="148.1" cy="204" r="2.5"/></g>
<path d="M32.75 214.5L33.76 214.74L34.77 214.98L35.78 215.23L36.79 215.48L37.8 215.75L38.81 216.02L39.81 216.29L40.82 216.58L41.83 216.86L42.84 217.16L43.85 217.46L44.86 217.76L45.87 218.06L46.88 218.36L47.89 218.68L48.9 219L49.91 219.33L50.92 219.67L51.92 220.03L52.93 220.41L53.94 220.81L54.95 221.23L55.96 221.69L56.97 222.19L57.98 222.74L58.99 223.32L60 223.93L61.01 224.56L62.02 225.21L63.03 225.91L64.03 226.66L65.04 227.45L66.05 228.26L67.06 229.06L68.07 229.83L69.08 230.58L70.09 231.35L71.1 232.21L72.11 233.18L73.12 234.25L74.13 235.47L75.14 236.85L76.14 238.52L77.15 240.49L78.16 242.69L79.17 245.05L80.18 247.67L81.19 250.56L82.2 253.7L83 262L83.6 274" fill="none" stroke="#5FA310" stroke-width="1.7" stroke-linejoin="round"/>
<path d="M89.1 274L89.6 264L90.2 256.53L91.38 252.36L92.56 248.53L93.74 245.08L94.93 242.02L96.11 239.23L97.29 236.76L98.47 234.69L99.65 232.93L100.83 231.38L102.02 229.98L103.2 228.7L104.38 227.54L105.56 226.46L106.74 225.44L107.92 224.45L109.11 223.5L110.29 222.59L111.47 221.71L112.65 220.85L113.83 220.01L115.01 219.19L116.2 218.38L117.38 217.58L118.56 216.8L119.74 216.03L120.92 215.29L122.1 214.58L123.29 213.91L124.47 213.27L125.65 212.68L126.83 212.12L128.01 211.58L129.19 211.07L130.38 210.58L131.56 210.1L132.74 209.64L133.92 209.18L135.1 208.73L136.28 208.28L137.47 207.82L138.65 207.37L139.83 206.93L141.01 206.49L142.19 206.06L143.37 205.63L144.56 205.21L145.74 204.8L146.92 204.4L148.1 204" fill="none" stroke="#5FA310" stroke-width="1.7" stroke-linejoin="round"/>
</g>
<text x="32.75" y="286" text-anchor="middle" class="tk">-2</text><text x="71.2" y="286" text-anchor="middle" class="tk">-1</text><text x="109.65" y="286" text-anchor="middle" class="tk">0</text><text x="148.1" y="286" text-anchor="middle" class="tk">1</text><text x="26" y="181.15" text-anchor="end" class="tk">10</text><text x="27.1" y="176.95" text-anchor="start" class="sp">2</text><text x="26" y="219.85" text-anchor="end" class="tk">10</text><text x="27.1" y="215.65" text-anchor="start" class="sp">0</text><text x="23.05" y="258.55" text-anchor="end" class="tk">10</text><text x="23.55" y="254.35" text-anchor="start" class="sp">-2</text><text x="133.5" y="250.9" text-anchor="middle" class="pl">IV</text>
<path d="M188.1 273.2v-1.3M188.1 157.1v1.3M226.53 273.2v-1.3M226.53 157.1v1.3M264.97 273.2v-1.3M264.97 157.1v1.3M303.4 273.2v-1.3M303.4 157.1v1.3M188.1 157.1h1.3M303.4 157.1h-1.3M188.1 176.45h1.3M303.4 176.45h-1.3M188.1 195.8h1.3M303.4 195.8h-1.3M188.1 215.15h1.3M303.4 215.15h-1.3M188.1 234.5h1.3M303.4 234.5h-1.3M188.1 253.85h1.3M303.4 253.85h-1.3M188.1 273.2h1.3M303.4 273.2h-1.3M188.1 170.63h0.9M303.4 170.63h-0.9M188.1 167.22h0.9M303.4 167.22h-0.9M188.1 164.8h0.9M303.4 164.8h-0.9M188.1 162.92h0.9M303.4 162.92h-0.9M188.1 161.39h0.9M303.4 161.39h-0.9M188.1 160.1h0.9M303.4 160.1h-0.9M188.1 158.98h0.9M303.4 158.98h-0.9M188.1 157.99h0.9M303.4 157.99h-0.9M188.1 189.98h0.9M303.4 189.98h-0.9M188.1 186.57h0.9M303.4 186.57h-0.9M188.1 184.15h0.9M303.4 184.15h-0.9M188.1 182.27h0.9M303.4 182.27h-0.9M188.1 180.74h0.9M303.4 180.74h-0.9M188.1 179.45h0.9M303.4 179.45h-0.9M188.1 178.33h0.9M303.4 178.33h-0.9M188.1 177.34h0.9M303.4 177.34h-0.9M188.1 209.33h0.9M303.4 209.33h-0.9M188.1 205.92h0.9M303.4 205.92h-0.9M188.1 203.5h0.9M303.4 203.5h-0.9M188.1 201.62h0.9M303.4 201.62h-0.9M188.1 200.09h0.9M303.4 200.09h-0.9M188.1 198.8h0.9M303.4 198.8h-0.9M188.1 197.68h0.9M303.4 197.68h-0.9M188.1 196.69h0.9M303.4 196.69h-0.9M188.1 228.68h0.9M303.4 228.68h-0.9M188.1 225.27h0.9M303.4 225.27h-0.9M188.1 222.85h0.9M303.4 222.85h-0.9M188.1 220.97h0.9M303.4 220.97h-0.9M188.1 219.44h0.9M303.4 219.44h-0.9M188.1 218.15h0.9M303.4 218.15h-0.9M188.1 217.03h0.9M303.4 217.03h-0.9M188.1 216.04h0.9M303.4 216.04h-0.9M188.1 248.03h0.9M303.4 248.03h-0.9M188.1 244.62h0.9M303.4 244.62h-0.9M188.1 242.2h0.9M303.4 242.2h-0.9M188.1 240.32h0.9M303.4 240.32h-0.9M188.1 238.79h0.9M303.4 238.79h-0.9M188.1 237.5h0.9M303.4 237.5h-0.9M188.1 236.38h0.9M303.4 236.38h-0.9M188.1 235.39h0.9M303.4 235.39h-0.9M188.1 267.38h0.9M303.4 267.38h-0.9M188.1 263.97h0.9M303.4 263.97h-0.9M188.1 261.55h0.9M303.4 261.55h-0.9M188.1 259.67h0.9M303.4 259.67h-0.9M188.1 258.14h0.9M303.4 258.14h-0.9M188.1 256.85h0.9M303.4 256.85h-0.9M188.1 255.73h0.9M303.4 255.73h-0.9M188.1 254.74h0.9M303.4 254.74h-0.9" stroke="#111" stroke-width="0.7" fill="none"/><rect x="188.1" y="157.1" width="115.3" height="116.1" fill="none" stroke="#111" stroke-width="1.4"/>
<g clip-path="url(#c4)">
<path d="M188.1 170.3L303.4 171.8" fill="none" stroke="#1580EE" stroke-width="2.0" stroke-linejoin="round"/>
<path d="M186.15 168.35h3.9v3.9h-3.9zM189.99 168.4h3.9v3.9h-3.9zM193.84 168.45h3.9v3.9h-3.9zM197.68 168.5h3.9v3.9h-3.9zM201.52 168.55h3.9v3.9h-3.9zM205.37 168.6h3.9v3.9h-3.9zM209.21 168.65h3.9v3.9h-3.9zM213.05 168.7h3.9v3.9h-3.9zM216.9 168.75h3.9v3.9h-3.9zM220.74 168.8h3.9v3.9h-3.9zM224.58 168.85h3.9v3.9h-3.9zM228.43 168.9h3.9v3.9h-3.9zM232.27 168.95h3.9v3.9h-3.9zM236.11 169h3.9v3.9h-3.9zM239.96 169.05h3.9v3.9h-3.9zM243.8 169.1h3.9v3.9h-3.9zM247.64 169.15h3.9v3.9h-3.9zM251.49 169.2h3.9v3.9h-3.9zM255.33 169.25h3.9v3.9h-3.9zM259.17 169.3h3.9v3.9h-3.9zM263.02 169.35h3.9v3.9h-3.9zM266.86 169.4h3.9v3.9h-3.9zM270.7 169.45h3.9v3.9h-3.9zM274.55 169.5h3.9v3.9h-3.9zM278.39 169.55h3.9v3.9h-3.9zM282.23 169.6h3.9v3.9h-3.9zM286.08 169.65h3.9v3.9h-3.9zM289.92 169.7h3.9v3.9h-3.9zM293.76 169.75h3.9v3.9h-3.9zM297.61 169.8h3.9v3.9h-3.9zM301.45 169.85h3.9v3.9h-3.9z" fill="none" stroke="#E64A0C" stroke-width="1.9"/>
<path d="M188.1 213.45L190.95 218.4L185.25 218.4zM191.94 214.67L194.79 219.62L189.09 219.62zM195.79 216.06L198.64 221.01L192.94 221.01zM199.63 217.59L202.48 222.54L196.78 222.54zM203.47 219.25L206.32 224.2L200.62 224.2zM207.32 221.09L210.17 226.04L204.47 226.04zM211.16 223.14L214.01 228.09L208.31 228.09zM215 225.45L217.85 230.4L212.15 230.4zM218.85 228.2L221.7 233.15L216 233.15zM222.69 231.3L225.54 236.25L219.84 236.25zM226.53 234.99L229.38 239.94L223.68 239.94zM230.38 239.91L233.23 244.86L227.53 244.86zM234.22 249.36L237.07 254.31L231.37 254.31zM241.91 259.07L244.76 264.02L239.06 264.02zM245.75 244.3L248.6 249.25L242.9 249.25zM249.59 235.61L252.44 240.56L246.74 240.56zM253.44 230.35L256.29 235.3L250.59 235.3zM257.28 226.53L260.13 231.48L254.43 231.48zM261.12 223.58L263.97 228.53L258.27 228.53zM264.97 221.1L267.82 226.05L262.12 226.05zM268.81 218.68L271.66 223.63L265.96 223.63zM272.65 216.27L275.5 221.22L269.8 221.22zM276.5 213.96L279.35 218.91L273.65 218.91zM280.34 211.79L283.19 216.74L277.49 216.74zM284.18 209.77L287.03 214.72L281.33 214.72zM288.03 207.86L290.88 212.81L285.18 212.81zM291.87 206L294.72 210.95L289.02 210.95zM295.71 204.13L298.56 209.08L292.86 209.08zM299.56 202.28L302.41 207.23L296.71 207.23zM303.4 200.45L306.25 205.4L300.55 205.4z" fill="none" stroke="#F0A414" stroke-width="1.8" stroke-linejoin="miter"/>
<g fill="none" stroke="#6A0E94" stroke-width="1.5"><circle cx="188.1" cy="216.75" r="2.5"/><circle cx="191.94" cy="217.97" r="2.5"/><circle cx="195.79" cy="219.36" r="2.5"/><circle cx="199.63" cy="220.89" r="2.5"/><circle cx="203.47" cy="222.55" r="2.5"/><circle cx="207.32" cy="224.39" r="2.5"/><circle cx="211.16" cy="226.44" r="2.5"/><circle cx="215" cy="228.75" r="2.5"/><circle cx="218.85" cy="231.5" r="2.5"/><circle cx="222.69" cy="234.6" r="2.5"/><circle cx="226.53" cy="238.29" r="2.5"/><circle cx="230.38" cy="243.21" r="2.5"/><circle cx="234.22" cy="252.66" r="2.5"/><circle cx="241.91" cy="262.37" r="2.5"/><circle cx="245.75" cy="247.6" r="2.5"/><circle cx="249.59" cy="238.91" r="2.5"/><circle cx="253.44" cy="233.65" r="2.5"/><circle cx="257.28" cy="229.83" r="2.5"/><circle cx="261.12" cy="226.88" r="2.5"/><circle cx="264.97" cy="224.4" r="2.5"/><circle cx="268.81" cy="221.98" r="2.5"/><circle cx="272.65" cy="219.57" r="2.5"/><circle cx="276.5" cy="217.26" r="2.5"/><circle cx="280.34" cy="215.09" r="2.5"/><circle cx="284.18" cy="213.07" r="2.5"/><circle cx="288.03" cy="211.16" r="2.5"/><circle cx="291.87" cy="209.3" r="2.5"/><circle cx="295.71" cy="207.43" r="2.5"/><circle cx="299.56" cy="205.58" r="2.5"/><circle cx="303.4" cy="203.75" r="2.5"/></g>
<path d="M188.1 216.75L189.04 217.03L189.98 217.33L190.92 217.63L191.86 217.95L192.8 218.27L193.74 218.6L194.69 218.95L195.63 219.3L196.57 219.66L197.51 220.03L198.45 220.4L199.39 220.79L200.33 221.18L201.27 221.58L202.21 221.99L203.15 222.41L204.09 222.84L205.03 223.28L205.98 223.73L206.92 224.19L207.86 224.67L208.8 225.16L209.74 225.66L210.68 226.17L211.62 226.7L212.56 227.24L213.5 227.8L214.44 228.39L215.38 229.01L216.32 229.65L217.27 230.32L218.21 231.01L219.15 231.73L220.09 232.46L221.03 233.21L221.97 233.99L222.91 234.79L223.85 235.63L224.79 236.52L225.73 237.45L226.67 238.44L227.61 239.47L228.56 240.58L229.5 241.84L230.44 243.31L231.38 245.13L232.32 247.33L233.26 249.84L234.2 252.6L235.8 262L237.3 274" fill="none" stroke="#5FA310" stroke-width="1.7" stroke-linejoin="round"/>
<path d="M241.9 262.4L242.94 257.75L243.98 253.52L245.03 249.82L246.07 246.7L247.11 243.99L248.15 241.61L249.2 239.58L250.24 237.89L251.28 236.38L252.32 234.99L253.37 233.73L254.41 232.58L255.45 231.52L256.49 230.53L257.54 229.61L258.58 228.76L259.62 227.96L260.66 227.2L261.71 226.49L262.75 225.8L263.79 225.14L264.83 224.49L265.87 223.84L266.92 223.19L267.96 222.53L269 221.86L270.04 221.2L271.09 220.54L272.13 219.89L273.17 219.25L274.21 218.62L275.26 217.99L276.3 217.38L277.34 216.77L278.38 216.18L279.43 215.59L280.47 215.02L281.51 214.46L282.55 213.91L283.59 213.37L284.64 212.84L285.68 212.32L286.72 211.8L287.76 211.29L288.81 210.79L289.85 210.28L290.89 209.78L291.93 209.27L292.98 208.76L294.02 208.25L295.06 207.74L296.1 207.24L297.15 206.73L298.19 206.23L299.23 205.73L300.27 205.23L301.32 204.74L302.36 204.24L303.4 203.75" fill="none" stroke="#5FA310" stroke-width="1.7" stroke-linejoin="round"/>
</g>
<text x="188.1" y="286" text-anchor="middle" class="tk">-2</text><text x="226.53" y="286" text-anchor="middle" class="tk">-1</text><text x="264.97" y="286" text-anchor="middle" class="tk">0</text><text x="303.4" y="286" text-anchor="middle" class="tk">1</text><text x="181.35" y="181.15" text-anchor="end" class="tk">10</text><text x="182.45" y="176.95" text-anchor="start" class="sp">2</text><text x="181.35" y="219.85" text-anchor="end" class="tk">10</text><text x="182.45" y="215.65" text-anchor="start" class="sp">0</text><text x="178.4" y="258.55" text-anchor="end" class="tk">10</text><text x="178.9" y="254.35" text-anchor="start" class="sp">-2</text><text x="289.4" y="251.5" text-anchor="middle" class="pl">V</text>
<path d="M342.75 273.2v-1.3M342.75 157.1v1.3M381.23 273.2v-1.3M381.23 157.1v1.3M419.72 273.2v-1.3M419.72 157.1v1.3M458.2 273.2v-1.3M458.2 157.1v1.3M342.75 157.1h1.3M458.2 157.1h-1.3M342.75 173.69h1.3M458.2 173.69h-1.3M342.75 190.27h1.3M458.2 190.27h-1.3M342.75 206.86h1.3M458.2 206.86h-1.3M342.75 223.44h1.3M458.2 223.44h-1.3M342.75 240.03h1.3M458.2 240.03h-1.3M342.75 256.61h1.3M458.2 256.61h-1.3M342.75 273.2h1.3M458.2 273.2h-1.3M342.75 168.69h0.9M458.2 168.69h-0.9M342.75 165.77h0.9M458.2 165.77h-0.9M342.75 163.7h0.9M458.2 163.7h-0.9M342.75 162.09h0.9M458.2 162.09h-0.9M342.75 160.78h0.9M458.2 160.78h-0.9M342.75 159.67h0.9M458.2 159.67h-0.9M342.75 158.71h0.9M458.2 158.71h-0.9M342.75 157.86h0.9M458.2 157.86h-0.9M342.75 185.28h0.9M458.2 185.28h-0.9M342.75 182.36h0.9M458.2 182.36h-0.9M342.75 180.29h0.9M458.2 180.29h-0.9M342.75 178.68h0.9M458.2 178.68h-0.9M342.75 177.37h0.9M458.2 177.37h-0.9M342.75 176.25h0.9M458.2 176.25h-0.9M342.75 175.29h0.9M458.2 175.29h-0.9M342.75 174.44h0.9M458.2 174.44h-0.9M342.75 201.86h0.9M458.2 201.86h-0.9M342.75 198.94h0.9M458.2 198.94h-0.9M342.75 196.87h0.9M458.2 196.87h-0.9M342.75 195.26h0.9M458.2 195.26h-0.9M342.75 193.95h0.9M458.2 193.95h-0.9M342.75 192.84h0.9M458.2 192.84h-0.9M342.75 191.88h0.9M458.2 191.88h-0.9M342.75 191.03h0.9M458.2 191.03h-0.9M342.75 218.45h0.9M458.2 218.45h-0.9M342.75 215.53h0.9M458.2 215.53h-0.9M342.75 213.46h0.9M458.2 213.46h-0.9M342.75 211.85h0.9M458.2 211.85h-0.9M342.75 210.54h0.9M458.2 210.54h-0.9M342.75 209.43h0.9M458.2 209.43h-0.9M342.75 208.46h0.9M458.2 208.46h-0.9M342.75 207.62h0.9M458.2 207.62h-0.9M342.75 235.04h0.9M458.2 235.04h-0.9M342.75 232.12h0.9M458.2 232.12h-0.9M342.75 230.04h0.9M458.2 230.04h-0.9M342.75 228.44h0.9M458.2 228.44h-0.9M342.75 227.12h0.9M458.2 227.12h-0.9M342.75 226.01h0.9M458.2 226.01h-0.9M342.75 225.05h0.9M458.2 225.05h-0.9M342.75 224.2h0.9M458.2 224.2h-0.9M342.75 251.62h0.9M458.2 251.62h-0.9M342.75 248.7h0.9M458.2 248.7h-0.9M342.75 246.63h0.9M458.2 246.63h-0.9M342.75 245.02h0.9M458.2 245.02h-0.9M342.75 243.71h0.9M458.2 243.71h-0.9M342.75 242.6h0.9M458.2 242.6h-0.9M342.75 241.64h0.9M458.2 241.64h-0.9M342.75 240.79h0.9M458.2 240.79h-0.9M342.75 268.21h0.9M458.2 268.21h-0.9M342.75 265.29h0.9M458.2 265.29h-0.9M342.75 263.21h0.9M458.2 263.21h-0.9M342.75 261.61h0.9M458.2 261.61h-0.9M342.75 260.29h0.9M458.2 260.29h-0.9M342.75 259.18h0.9M458.2 259.18h-0.9M342.75 258.22h0.9M458.2 258.22h-0.9M342.75 257.37h0.9M458.2 257.37h-0.9" stroke="#111" stroke-width="0.7" fill="none"/><rect x="342.75" y="157.1" width="115.45" height="116.1" fill="none" stroke="#111" stroke-width="1.4"/>
<g clip-path="url(#c5)">
<path d="M342.75 180.3L458.2 180.3" fill="none" stroke="#1580EE" stroke-width="2.0" stroke-linejoin="round"/>
<path d="M340.8 178.35h3.9v3.9h-3.9zM344.65 178.35h3.9v3.9h-3.9zM348.5 178.35h3.9v3.9h-3.9zM352.35 178.35h3.9v3.9h-3.9zM356.19 178.35h3.9v3.9h-3.9zM360.04 178.35h3.9v3.9h-3.9zM363.89 178.35h3.9v3.9h-3.9zM367.74 178.35h3.9v3.9h-3.9zM371.59 178.35h3.9v3.9h-3.9zM375.44 178.35h3.9v3.9h-3.9zM379.28 178.35h3.9v3.9h-3.9zM383.13 178.35h3.9v3.9h-3.9zM386.98 178.35h3.9v3.9h-3.9zM390.83 178.35h3.9v3.9h-3.9zM394.68 178.35h3.9v3.9h-3.9zM398.53 178.35h3.9v3.9h-3.9zM402.37 178.35h3.9v3.9h-3.9zM406.22 178.35h3.9v3.9h-3.9zM410.07 178.35h3.9v3.9h-3.9zM413.92 178.35h3.9v3.9h-3.9zM417.77 178.35h3.9v3.9h-3.9zM421.62 178.35h3.9v3.9h-3.9zM425.46 178.35h3.9v3.9h-3.9zM429.31 178.35h3.9v3.9h-3.9zM433.16 178.35h3.9v3.9h-3.9zM437.01 178.35h3.9v3.9h-3.9zM440.86 178.35h3.9v3.9h-3.9zM444.7 178.35h3.9v3.9h-3.9zM448.55 178.35h3.9v3.9h-3.9zM452.4 178.35h3.9v3.9h-3.9zM456.25 178.35h3.9v3.9h-3.9z" fill="none" stroke="#E64A0C" stroke-width="1.9"/>
<path d="M342.75 217.97L345.6 222.92L339.9 222.92zM346.6 218.87L349.45 223.82L343.75 223.82zM350.45 220.17L353.3 225.12L347.6 225.12zM354.3 221.27L357.15 226.22L351.44 226.22zM358.14 222.27L360.99 227.22L355.29 227.22zM361.99 223.17L364.84 228.12L359.14 228.12zM365.84 224.37L368.69 229.32L362.99 229.32zM369.69 226.17L372.54 231.12L366.84 231.12zM373.54 228.67L376.39 233.62L370.69 233.62zM377.38 232.27L380.24 237.22L374.53 237.22zM381.23 236.47L384.08 241.42L378.38 241.42zM385.08 255.87L387.93 260.82L382.23 260.82zM388.93 240.67L391.78 245.62L386.08 245.62zM392.78 224.67L395.63 229.62L389.93 229.62zM396.63 212.47L399.48 217.42L393.78 217.42zM400.48 203.37L403.33 208.32L397.62 208.32zM404.32 204.97L407.17 209.92L401.47 209.92zM408.17 205.22L411.02 210.17L405.32 210.17zM412.02 205.22L414.87 210.17L409.17 210.17zM415.87 204.97L418.72 209.92L413.02 209.92zM419.72 203.97L422.57 208.92L416.87 208.92zM423.56 203.37L426.42 208.32L420.71 208.32zM427.41 202.47L430.26 207.42L424.56 207.42zM431.26 201.47L434.11 206.42L428.41 206.42zM435.11 200.47L437.96 205.42L432.26 205.42zM438.96 199.57L441.81 204.52L436.11 204.52zM442.81 198.72L445.66 203.67L439.96 203.67zM446.65 197.72L449.5 202.67L443.8 202.67zM450.5 196.47L453.35 201.42L447.65 201.42zM454.35 195.22L457.2 200.17L451.5 200.17zM458.2 193.97L461.05 198.92L455.35 198.92z" fill="none" stroke="#F0A414" stroke-width="1.8" stroke-linejoin="miter"/>
<g fill="none" stroke="#6A0E94" stroke-width="1.5"><circle cx="342.75" cy="220.3" r="2.5"/><circle cx="346.6" cy="222" r="2.5"/><circle cx="350.45" cy="223.8" r="2.5"/><circle cx="354.3" cy="225.6" r="2.5"/><circle cx="358.14" cy="227.4" r="2.5"/><circle cx="361.99" cy="229.1" r="2.5"/><circle cx="365.84" cy="231" r="2.5"/><circle cx="369.69" cy="233.6" r="2.5"/><circle cx="373.54" cy="236.8" r="2.5"/><circle cx="377.38" cy="241.8" r="2.5"/><circle cx="381.23" cy="250.3" r="2.5"/><circle cx="385.08" cy="270.2" r="2.5"/><circle cx="388.93" cy="257.9" r="2.5"/><circle cx="392.78" cy="245.2" r="2.5"/><circle cx="396.63" cy="237.6" r="2.5"/><circle cx="400.48" cy="232.6" r="2.5"/><circle cx="404.32" cy="228.6" r="2.5"/><circle cx="408.17" cy="225.8" r="2.5"/><circle cx="412.02" cy="223.34" r="2.5"/><circle cx="415.87" cy="221.12" r="2.5"/><circle cx="419.72" cy="219.13" r="2.5"/><circle cx="423.56" cy="217.27" r="2.5"/><circle cx="427.41" cy="215.48" r="2.5"/><circle cx="431.26" cy="213.76" r="2.5"/><circle cx="435.11" cy="212.16" r="2.5"/><circle cx="438.96" cy="210.71" r="2.5"/><circle cx="442.81" cy="209.36" r="2.5"/><circle cx="446.65" cy="208.02" r="2.5"/><circle cx="450.5" cy="206.69" r="2.5"/><circle cx="454.35" cy="205.38" r="2.5"/><circle cx="458.2" cy="204.1" r="2.5"/></g>
<path d="M342.75 220.3L343.4 220.58L344.05 220.87L344.71 221.15L345.36 221.44L346.01 221.73L346.66 222.03L347.32 222.33L347.97 222.63L348.62 222.94L349.27 223.25L349.92 223.56L350.58 223.86L351.23 224.17L351.88 224.47L352.53 224.78L353.19 225.08L353.84 225.39L354.49 225.69L355.14 226L355.8 226.31L356.45 226.61L357.1 226.92L357.75 227.22L358.4 227.52L359.06 227.81L359.71 228.09L360.36 228.37L361.01 228.66L361.67 228.95L362.32 229.25L362.97 229.55L363.62 229.86L364.27 230.17L364.93 230.5L365.58 230.85L366.23 231.23L366.88 231.63L367.54 232.06L368.19 232.51L368.84 232.98L369.49 233.45L370.14 233.94L370.8 234.43L371.45 234.94L372.1 235.47L372.75 236.05L373.41 236.67L374.06 237.35L374.71 238.08L375.36 238.88L376.02 239.74L376.67 240.68L377.32 241.69L377.97 242.82L378.62 244.09L379.28 245.48L379.93 246.99L380.58 248.6L381.23 250.3L383.6 262L384.8 270.2" fill="none" stroke="#5FA310" stroke-width="1.7" stroke-linejoin="round"/>
<path d="M388.93 257.9L389.81 254.53L390.68 251.41L391.56 248.57L392.44 246.07L393.31 243.92L394.19 242L395.07 240.27L395.94 238.71L396.82 237.3L397.7 236.03L398.58 234.87L399.45 233.8L400.33 232.77L401.21 231.76L402.08 230.79L402.96 229.88L403.84 229.03L404.71 228.27L405.59 227.59L406.47 226.96L407.34 226.36L408.22 225.77L409.1 225.18L409.97 224.61L410.85 224.06L411.73 223.52L412.6 222.99L413.48 222.47L414.36 221.97L415.24 221.47L416.11 220.99L416.99 220.52L417.87 220.07L418.74 219.62L419.62 219.18L420.5 218.75L421.37 218.32L422.25 217.9L423.13 217.48L424 217.07L424.88 216.65L425.76 216.24L426.63 215.84L427.51 215.44L428.39 215.04L429.26 214.64L430.14 214.25L431.02 213.86L431.89 213.48L432.77 213.11L433.65 212.75L434.53 212.39L435.4 212.04L436.28 211.7L437.16 211.37L438.03 211.05L438.91 210.73L439.79 210.42L440.66 210.11L441.54 209.8L442.42 209.5L443.29 209.19L444.17 208.89L445.05 208.58L445.92 208.28L446.8 207.97L447.68 207.67L448.55 207.36L449.43 207.06L450.31 206.76L451.19 206.46L452.06 206.16L452.94 205.86L453.82 205.56L454.69 205.27L455.57 204.97L456.45 204.68L457.32 204.39L458.2 204.1" fill="none" stroke="#5FA310" stroke-width="1.7" stroke-linejoin="round"/>
</g>
<text x="342.75" y="286" text-anchor="middle" class="tk">-2</text><text x="381.23" y="286" text-anchor="middle" class="tk">-1</text><text x="419.72" y="286" text-anchor="middle" class="tk">0</text><text x="458.2" y="286" text-anchor="middle" class="tk">1</text><text x="336" y="178.39" text-anchor="end" class="tk">10</text><text x="337.1" y="174.19" text-anchor="start" class="sp">2</text><text x="336" y="211.56" text-anchor="end" class="tk">10</text><text x="337.1" y="207.36" text-anchor="start" class="sp">0</text><text x="333.05" y="244.73" text-anchor="end" class="tk">10</text><text x="333.55" y="240.53" text-anchor="start" class="sp">-2</text><text x="445.45" y="251.4" text-anchor="middle" class="pl">VI</text>
<path d="M503.35 273.2v-1.3M503.35 157.1v1.3M522.56 273.2v-1.3M522.56 157.1v1.3M541.77 273.2v-1.3M541.77 157.1v1.3M560.98 273.2v-1.3M560.98 157.1v1.3M580.19 273.2v-1.3M580.19 157.1v1.3M599.4 273.2v-1.3M599.4 157.1v1.3M493.75 159.05h1.3M609 159.05h-1.3M493.75 175.4h1.3M609 175.4h-1.3M493.75 191.75h1.3M609 191.75h-1.3M493.75 208.1h1.3M609 208.1h-1.3M493.75 224.45h1.3M609 224.45h-1.3M493.75 240.8h1.3M609 240.8h-1.3M493.75 257.15h1.3M609 257.15h-1.3M493.75 273.5h1.3M609 273.5h-1.3M493.75 170.48h0.9M609 170.48h-0.9M493.75 167.6h0.9M609 167.6h-0.9M493.75 165.56h0.9M609 165.56h-0.9M493.75 163.97h0.9M609 163.97h-0.9M493.75 162.68h0.9M609 162.68h-0.9M493.75 161.58h0.9M609 161.58h-0.9M493.75 160.63h0.9M609 160.63h-0.9M493.75 159.8h0.9M609 159.8h-0.9M493.75 186.83h0.9M609 186.83h-0.9M493.75 183.95h0.9M609 183.95h-0.9M493.75 181.91h0.9M609 181.91h-0.9M493.75 180.32h0.9M609 180.32h-0.9M493.75 179.03h0.9M609 179.03h-0.9M493.75 177.93h0.9M609 177.93h-0.9M493.75 176.98h0.9M609 176.98h-0.9M493.75 176.15h0.9M609 176.15h-0.9M493.75 203.18h0.9M609 203.18h-0.9M493.75 200.3h0.9M609 200.3h-0.9M493.75 198.26h0.9M609 198.26h-0.9M493.75 196.67h0.9M609 196.67h-0.9M493.75 195.38h0.9M609 195.38h-0.9M493.75 194.28h0.9M609 194.28h-0.9M493.75 193.33h0.9M609 193.33h-0.9M493.75 192.5h0.9M609 192.5h-0.9M493.75 219.53h0.9M609 219.53h-0.9M493.75 216.65h0.9M609 216.65h-0.9M493.75 214.61h0.9M609 214.61h-0.9M493.75 213.02h0.9M609 213.02h-0.9M493.75 211.73h0.9M609 211.73h-0.9M493.75 210.63h0.9M609 210.63h-0.9M493.75 209.68h0.9M609 209.68h-0.9M493.75 208.85h0.9M609 208.85h-0.9M493.75 235.88h0.9M609 235.88h-0.9M493.75 233h0.9M609 233h-0.9M493.75 230.96h0.9M609 230.96h-0.9M493.75 229.37h0.9M609 229.37h-0.9M493.75 228.08h0.9M609 228.08h-0.9M493.75 226.98h0.9M609 226.98h-0.9M493.75 226.03h0.9M609 226.03h-0.9M493.75 225.2h0.9M609 225.2h-0.9M493.75 252.23h0.9M609 252.23h-0.9M493.75 249.35h0.9M609 249.35h-0.9M493.75 247.31h0.9M609 247.31h-0.9M493.75 245.72h0.9M609 245.72h-0.9M493.75 244.43h0.9M609 244.43h-0.9M493.75 243.33h0.9M609 243.33h-0.9M493.75 242.38h0.9M609 242.38h-0.9M493.75 241.55h0.9M609 241.55h-0.9M493.75 268.58h0.9M609 268.58h-0.9M493.75 265.7h0.9M609 265.7h-0.9M493.75 263.66h0.9M609 263.66h-0.9M493.75 262.07h0.9M609 262.07h-0.9M493.75 260.78h0.9M609 260.78h-0.9M493.75 259.68h0.9M609 259.68h-0.9M493.75 258.73h0.9M609 258.73h-0.9M493.75 257.9h0.9M609 257.9h-0.9" stroke="#111" stroke-width="0.7" fill="none"/><rect x="493.75" y="157.1" width="115.25" height="116.1" fill="none" stroke="#111" stroke-width="1.4"/>
<g clip-path="url(#c6)">
<path d="M512.3 250.5L513.39 247.55L514.47 244.68L515.56 241.89L516.65 239.19L517.73 236.56L518.82 233.97L519.91 231.44L520.99 229.08L522.08 227.02L523.17 225.21L524.25 223.55L525.34 221.95L526.42 220.44L527.51 218.97L528.6 217.46L529.68 215.84L530.77 214.17L531.86 212.53L532.94 210.98L534.03 209.51L535.12 208.08L536.2 206.7L537.29 205.37L538.38 204.12L539.46 202.88L540.55 201.56L541.64 200.1L542.72 198.55L543.81 197.05L544.9 195.66L545.98 194.33L547.07 193.06L548.16 191.87L549.24 190.72L550.33 189.63L551.41 188.59L552.5 187.59L553.59 186.64L554.67 185.71L555.76 184.78L556.85 183.83L557.93 182.86L559.02 181.89L560.11 180.95L561.19 180.04L562.28 179.17L563.37 178.33L564.45 177.5L565.54 176.69L566.63 175.9L567.71 175.12L568.8 174.36L569.89 173.6L570.97 172.83L572.06 172.04L573.14 171.25L574.23 170.47L575.32 169.75L576.4 169.09L577.49 168.46L578.58 167.86L579.66 167.28L580.75 166.72L581.84 166.18L582.92 165.66L584.01 165.15L585.1 164.66L586.18 164.16L587.27 163.68L588.36 163.21L589.44 162.75L590.53 162.29L591.62 161.84L592.7 161.39L593.79 160.98L594.88 160.61L595.96 160.29L597.05 159.99L598.13 159.71L599.22 159.44L600.31 159.18L601.39 158.92L602.48 158.68L603.57 158.44L604.65 158.2L605.74 157.97L606.83 157.74L607.91 157.52L609 157.3" fill="none" stroke="#1580EE" stroke-width="1.5" stroke-linejoin="round"/>
<path d="M511.01 246.75h3.9v3.9h-3.9zM515.81 234.54h3.9v3.9h-3.9zM520.61 224.24h3.9v3.9h-3.9zM525.41 217.22h3.9v3.9h-3.9zM530.22 210.12h3.9v3.9h-3.9zM535.02 203.8h3.9v3.9h-3.9zM539.82 197.96h3.9v3.9h-3.9zM544.62 191.68h3.9v3.9h-3.9zM549.42 186.67h3.9v3.9h-3.9zM554.23 182.47h3.9v3.9h-3.9zM559.03 178.27h3.9v3.9h-3.9zM563.83 174.56h3.9v3.9h-3.9zM568.63 171.16h3.9v3.9h-3.9zM573.44 167.76h3.9v3.9h-3.9zM578.24 165.06h3.9v3.9h-3.9zM583.04 162.75h3.9v3.9h-3.9zM587.84 160.65h3.9v3.9h-3.9zM592.64 158.75h3.9v3.9h-3.9zM597.45 157.45h3.9v3.9h-3.9zM602.25 156.35h3.9v3.9h-3.9zM607.05 155.35h3.9v3.9h-3.9zM491.8 241.8h3.9v3.9h-3.9zM496.6 245.55h3.9v3.9h-3.9zM501.4 251.55h3.9v3.9h-3.9z" fill="none" stroke="#E64A0C" stroke-width="1.9"/>
<path d="M512.96 245.4L515.81 250.35L510.11 250.35zM517.76 233.19L520.61 238.14L514.91 238.14zM522.56 222.89L525.41 227.84L519.71 227.84zM527.36 215.87L530.21 220.82L524.51 220.82zM532.17 208.77L535.02 213.72L529.32 213.72zM536.97 202.45L539.82 207.4L534.12 207.4zM541.77 196.61L544.62 201.56L538.92 201.56zM546.57 190.33L549.42 195.28L543.72 195.28zM551.38 185.32L554.23 190.27L548.52 190.27zM556.18 181.12L559.03 186.07L553.33 186.07zM560.98 176.92L563.83 181.87L558.13 181.87zM565.78 173.21L568.63 178.16L562.93 178.16zM570.58 169.81L573.43 174.76L567.73 174.76zM575.39 166.41L578.24 171.36L572.54 171.36zM580.19 163.71L583.04 168.66L577.34 168.66zM584.99 161.4L587.84 166.35L582.14 166.35zM589.79 159.3L592.64 164.25L586.94 164.25zM594.59 157.4L597.44 162.35L591.74 162.35zM599.4 156.1L602.25 161.05L596.55 161.05zM604.2 155L607.05 159.95L601.35 159.95zM609 154L611.85 158.95L606.15 158.95zM493.75 240.45L496.6 245.4L490.9 245.4zM498.55 244.2L501.4 249.15L495.7 249.15zM503.35 250.2L506.2 255.15L500.5 255.15z" fill="none" stroke="#F0A414" stroke-width="1.8" stroke-linejoin="miter"/>
<path d="M517.8 231.37L520.65 236.32L514.95 236.32zM522.6 229.57L525.45 234.52L519.75 234.52z" fill="#F0A414" fill-opacity="0.75" stroke="#F0A414" stroke-width="1.8" stroke-linejoin="miter"/>
<g fill="none" stroke="#6A0E94" stroke-width="1.5"><circle cx="493.75" cy="243.75" r="2.5"/><circle cx="498.55" cy="247.5" r="2.5"/><circle cx="503.35" cy="253.5" r="2.5"/><circle cx="512.96" cy="244" r="2.5"/><circle cx="522.56" cy="224.6" r="2.5"/><circle cx="527.36" cy="219.8" r="2.5"/><circle cx="532.17" cy="213.5" r="2.5"/><circle cx="536.97" cy="207.8" r="2.5"/><circle cx="541.77" cy="202.5" r="2.5"/><circle cx="546.57" cy="197.8" r="2.5"/><circle cx="551.38" cy="193.4" r="2.5"/><circle cx="556.18" cy="188.8" r="2.5"/><circle cx="560.98" cy="184.5" r="2.5"/><circle cx="565.78" cy="180.3" r="2.5"/><circle cx="570.58" cy="176.6" r="2.5"/><circle cx="575.39" cy="173.2" r="2.5"/><circle cx="580.19" cy="169.9" r="2.5"/><circle cx="584.99" cy="167.7" r="2.5"/><circle cx="589.79" cy="165.9" r="2.5"/><circle cx="594.59" cy="164.1" r="2.5"/><circle cx="599.4" cy="162.5" r="2.5"/><circle cx="604.2" cy="161" r="2.5"/><circle cx="609" cy="159.7" r="2.5"/></g>
<circle cx="517.7" cy="226.2" r="3.5" fill="#6A0E94"/>
<path d="M512.3 250.5L513.39 247.55L514.47 244.68L515.56 241.89L516.65 239.19L517.73 236.56L518.82 233.97L519.91 231.44L520.99 229.08L522.08 227.02L523.17 225.21L524.25 223.55L525.34 221.95L526.42 220.44L527.51 218.97L528.6 217.46L529.68 215.84L530.77 214.17L531.86 212.53L532.94 210.98L534.03 209.51L535.12 208.08L536.2 206.7L537.29 205.37L538.38 204.12L539.46 202.88L540.55 201.56L541.64 200.1L542.72 198.55L543.81 197.05L544.9 195.66L545.98 194.33L547.07 193.06L548.16 191.87L549.24 190.72L550.33 189.63L551.41 188.59L552.5 187.59L553.59 186.64L554.67 185.71L555.76 184.78L556.85 183.83L557.93 182.86L559.02 181.89L560.11 180.95L561.19 180.04L562.28 179.17L563.37 178.33L564.45 177.5L565.54 176.69L566.63 175.9L567.71 175.12L568.8 174.36L569.89 173.6L570.97 172.83L572.06 172.04L573.14 171.25L574.23 170.47L575.32 169.75L576.4 169.09L577.49 168.46L578.58 167.86L579.66 167.28L580.75 166.72L581.84 166.18L582.92 165.66L584.01 165.15L585.1 164.66L586.18 164.16L587.27 163.68L588.36 163.21L589.44 162.75L590.53 162.29L591.62 161.84L592.7 161.39L593.79 160.98L594.88 160.61L595.96 160.29L597.05 159.99L598.13 159.71L599.22 159.44L600.31 159.18L601.39 158.92L602.48 158.68L603.57 158.44L604.65 158.2L605.74 157.97L606.83 157.74L607.91 157.52L609 157.3" fill="none" stroke="#5FA310" stroke-width="2.0" stroke-linejoin="round"/>
<path d="M493.75 243.75L498.55 247.5L503.35 253.5" fill="none" stroke="#5FA310" stroke-width="1.6" stroke-linejoin="round"/>
</g>
<text x="503.35" y="286" text-anchor="middle" class="tk">-4</text><text x="522.56" y="286" text-anchor="middle" class="tk">-2</text><text x="541.77" y="286" text-anchor="middle" class="tk">0</text><text x="560.98" y="286" text-anchor="middle" class="tk">2</text><text x="580.19" y="286" text-anchor="middle" class="tk">4</text><text x="599.4" y="286" text-anchor="middle" class="tk">6</text><text x="486.3" y="163.75" text-anchor="end" class="tk">10</text><text x="487.4" y="159.55" text-anchor="start" class="sp">2</text><text x="486.3" y="196.45" text-anchor="end" class="tk">10</text><text x="487.4" y="192.25" text-anchor="start" class="sp">0</text><text x="483.35" y="229.15" text-anchor="end" class="tk">10</text><text x="483.85" y="224.95" text-anchor="start" class="sp">-2</text><text x="593.6" y="251.3" text-anchor="middle" class="pl">VII</text>
<rect x="55.4" y="17.8" width="72.7" height="77.9" fill="#fff" stroke="#222" stroke-width="1"/>
<path d="M70.1 26.2H88.9" stroke="#0F58C4" stroke-width="1.6"/>
<path d="M70.1 87.25H88.9" stroke="#56990A" stroke-width="1.6"/>
<rect x="77.9" y="39.3" width="4.2" height="4.2" fill="none" stroke="#E64A0C" stroke-width="1.9"/>
<path d="M80 53.7L82.85 58.65L77.15 58.65z" fill="none" stroke="#F0A414" stroke-width="1.8" stroke-linejoin="miter"/>
<circle cx="80.0" cy="71.9" r="2.6" fill="none" stroke="#6A0E94" stroke-width="1.6"/>
<text x="91.2" y="28.9" class="lg">TM</text>
<text x="91.2" y="44.2" class="lg">SCGF</text>
<text x="91.2" y="59.6" class="lg">AM</text>
<text x="91.2" y="74.8" class="lg">L</text>
<text x="91.2" y="90.1" class="lg">IPEP</text>
<text transform="translate(163.5 72.2) rotate(-90)" class="yl">&#963;</text><text transform="translate(163.5 65.6) rotate(-90)" class="yl">[</text><text transform="translate(163.5 62.8) rotate(-90)" class="yl">s</text><text transform="translate(158.7 55.2) rotate(-90)" class="ys">-1</text><text transform="translate(163.5 49.4) rotate(-90)" class="yl">]</text>
<text transform="translate(9.6 227.3) rotate(-90)" class="yl">&#963;</text><text transform="translate(9.6 220.7) rotate(-90)" class="yl">[</text><text transform="translate(9.6 217.9) rotate(-90)" class="yl">s</text><text transform="translate(4.8 210.3) rotate(-90)" class="ys">-1</text><text transform="translate(9.6 204.5) rotate(-90)" class="yl">]</text>
<text x="321" y="297.3" class="xl">F</text>
</svg>
</body>
</html>
